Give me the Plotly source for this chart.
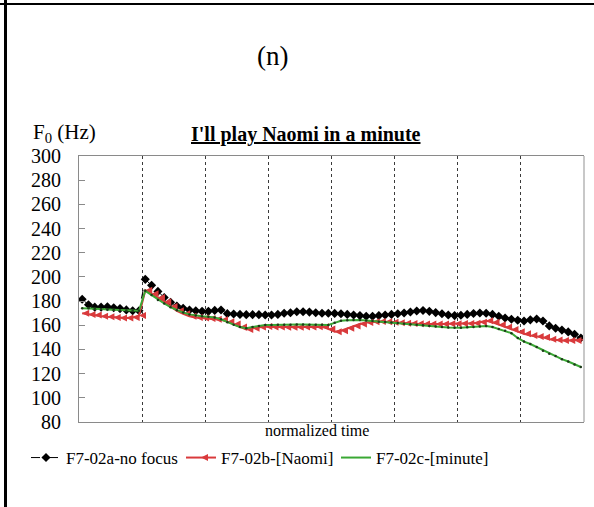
import plotly.graph_objects as go

# F0 contours (Hz) over normalized time, 80 samples per utterance
no_focus = [181.5, 177, 175, 175, 175.3, 174.5, 173.8, 172.7, 172, 172,
            198, 193, 188, 183, 179, 176, 174, 172.6, 172, 171.5,
            171.5, 172.3, 172.6, 169.6, 169.3, 169, 168.8, 168.8, 168.8, 168.5,
            168.5, 169, 169.9, 170.4, 171.2, 171.2, 170.9, 170.4, 169.9, 170,
            169.8, 169.5, 169, 168.5, 168, 167.5, 167.5, 168, 168.5, 169,
            169.5, 170.2, 171, 171.8, 172.2, 171.5, 170.5, 169.5, 168.5, 168,
            168.3, 169, 169.7, 170.2, 170, 169, 167.5, 166, 165, 164.2,
            163.5, 164.5, 165.2, 163.5, 159.5, 157.5, 156, 154.5, 152.5, 149.5]

naomi = [170, 169, 168.5, 167.5, 167, 166.5, 166, 166, 166.5, 168,
         189, 186, 183, 179.5, 175.5, 172, 169.5, 167.5, 166.5, 166,
         165.5, 165, 164.5, 163, 161, 158.5, 156.5, 157.5, 158.5, 159,
         158.5, 158.5, 158.3, 158.3, 158.3, 158.5, 158.5, 158.8, 158.8, 157,
         154.7, 155.5, 157.5, 159.4, 161, 162.3, 163, 163.2, 163, 162.5,
         162, 161.7, 161.5, 161.2, 161, 161, 161, 161, 161.2, 161.3,
         161.5, 161.5, 161.7, 162.5, 163.8, 162.5, 160.5, 158.5, 156.5, 154.7,
         153, 151.5, 150.8, 150, 148.5, 147.8, 147.5, 147.5, 147.5, 148]

minute = [174, 174, 173.7, 173.4, 173.1, 172.8, 172.5, 172.3, 172, 172,
          188.5, 185, 181, 178, 175, 172.5, 170.5, 169, 168, 167.5,
          167, 166.5, 165, 162.5, 160.5, 158.5, 157.5, 158.5, 159.5, 160.2,
          160.3, 160.5, 160.5, 160.5, 160.6, 160.6, 160.5, 160.5, 160.4, 160.3,
          162, 163.8, 164.2, 164.4, 164.3, 164, 163.5, 163, 162.7, 162.3,
          161.8, 161.3, 160.8, 160.4, 160, 159.5, 159, 158.6, 158.2, 158,
          158, 158.3, 158.6, 158.9, 159.4, 158.5, 157, 155.5, 153.5, 149.5,
          146.5, 144.5, 142, 139, 136.5, 134.5, 132, 130, 127.5, 125.5]

n_points = len(no_focus)
time_idx = [i + 0.5 for i in range(n_points)]
segment_bounds = [10, 20, 30, 40, 50, 60, 70]
y_ticks = list(range(80, 301, 20))

series_names = ["F7-02a-no focus", "F7-02b-[Naomi]", "F7-02c-[minute]"]

W, H = 594, 507
L, R, T, B = 79, 10, 156, 85
PW, PH = W - L - R, H - T - B


def px_x(px):
    return (px - L) / PW


def px_y(py):
    return (H - B - py) / PH


SERIF = "Liberation Serif, Times New Roman, serif"

fig = go.Figure()

fig.add_trace(go.Scatter(
    x=time_idx, y=no_focus, name=series_names[0], mode="lines+markers",
    line=dict(color="black", width=1, dash="dash"),
    marker=dict(symbol="diamond", size=7, color="black"),
))
fig.add_trace(go.Scatter(
    x=time_idx, y=naomi, name=series_names[1], mode="lines+markers",
    line=dict(color="#d93a3c", width=2),
    marker=dict(symbol="arrow-left", size=7, color="#d93a3c"),
))
fig.add_trace(go.Scatter(
    x=time_idx, y=minute, name=series_names[2], mode="lines",
    line=dict(color="#3aa834", width=2),
))
fig.add_trace(go.Scatter(
    x=time_idx, y=minute, mode="markers", showlegend=False, hoverinfo="skip",
    marker=dict(symbol="circle", size=2.5, color="#1d3a1a"),
))

fig.update_layout(
    width=W, height=H,
    margin=dict(l=L, r=R, t=T, b=B, pad=0),
    paper_bgcolor="white", plot_bgcolor="white",
    font=dict(family=SERIF, color="black"),
    showlegend=True,
    legend=dict(
        orientation="h", x=px_x(26), y=px_y(458), xanchor="left", yanchor="middle",
        font=dict(size=17, family=SERIF), itemwidth=30, tracegroupgap=0,
        entrywidth=110, entrywidthmode="pixels",
        bgcolor="rgba(0,0,0,0)",
    ),
    xaxis=dict(
        range=[0, n_points], tickvals=segment_bounds, showticklabels=False,
        ticks="", showgrid=True, gridcolor="#3a3a3a", gridwidth=1, griddash="dot",
        showline=True, linecolor="#8a8a8a", linewidth=1, mirror=True, zeroline=False,
    ),
    yaxis=dict(
        range=[80, 300], tickvals=y_ticks, ticks="inside", ticklen=6,
        tickcolor="#8a8a8a", showgrid=False, zeroline=False,
        showline=True, linecolor="#8a8a8a", linewidth=1,
        tickfont=dict(size=20, family=SERIF), ticklabelstandoff=13,
    ),
    shapes=[
        # right edge of the plot frame
        dict(type="line", xref="paper", yref="paper", x0=1, x1=1, y0=0, y1=1,
             line=dict(color="#c8c8c8", width=2)),
        # panel border: top and left
        dict(type="line", xref="paper", yref="paper",
             x0=px_x(0), x1=px_x(W), y0=px_y(4), y1=px_y(4),
             line=dict(color="black", width=2)),
        dict(type="line", xref="paper", yref="paper",
             x0=px_x(5.5), x1=px_x(5.5), y0=px_y(0), y1=px_y(H),
             line=dict(color="black", width=3)),
    ],
    annotations=[
        dict(text="(n)", xref="paper", yref="paper", x=px_x(272), y=px_y(56),
             xanchor="center", yanchor="middle", showarrow=False,
             font=dict(size=27, family=SERIF)),
        dict(text="F<sub>0</sub> (Hz)", xref="paper", yref="paper",
             x=px_x(31), y=px_y(133), xanchor="left", yanchor="middle",
             showarrow=False, font=dict(size=21, family=SERIF)),
        dict(text="<b><u>I'll play Naomi in a minute</u></b>", xref="paper", yref="paper",
             x=px_x(306), y=px_y(134), xanchor="center", yanchor="middle",
             showarrow=False, font=dict(size=20, family=SERIF)),
        dict(text="normalized time", xref="paper", yref="paper",
             x=px_x(317), y=px_y(430), xanchor="center", yanchor="middle",
             showarrow=False, font=dict(size=16, family=SERIF)),
    ],
)

fig.write_html("out.html")
